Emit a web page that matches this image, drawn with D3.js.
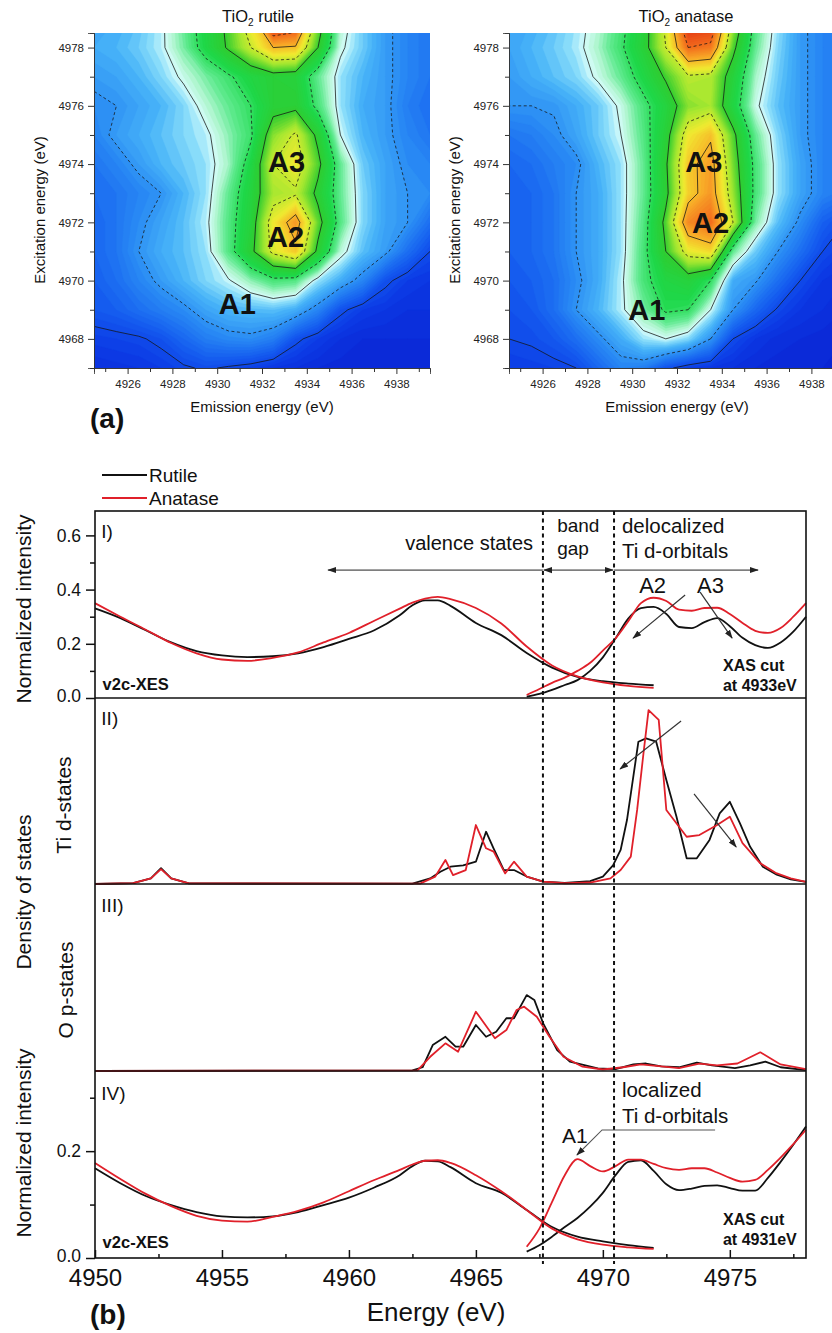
<!DOCTYPE html>
<html>
<head>
<meta charset="utf-8">
<script src="https://cdn.jsdelivr.net/npm/d3@7"></script>
<style>
  body { margin: 0; background: #fff; }
  svg { display: block; font-family: "Liberation Sans", Arial, sans-serif; }
</style>
</head>
<body>
<svg id="chart" width="832" height="1333"></svg>
<script>
// ---------- (a) RIXS planes, values on a 1 eV grid ----------
const emissionGrid = [4924.5, 4925.5, 4926.5, 4927.5, 4928.5, 4929.5, 4930.5, 4931.5,
                      4932.5, 4933.5, 4934.5, 4935.5, 4936.5, 4937.5, 4938.5, 4939.5];
const excitationGrid = [4979, 4978, 4977, 4976, 4975, 4974, 4973, 4972, 4971, 4970, 4969, 4968, 4967];

const rutileMap = [
  [0.22, 0.23, 0.25, 0.29, 0.36, 0.44, 0.52, 0.66, 0.95, 0.90, 0.56, 0.33, 0.26, 0.21, 0.18, 0.16],
  [0.23, 0.24, 0.26, 0.29, 0.35, 0.43, 0.51, 0.60, 0.70, 0.69, 0.50, 0.31, 0.26, 0.21, 0.18, 0.16],
  [0.21, 0.22, 0.24, 0.27, 0.31, 0.35, 0.39, 0.44, 0.47, 0.46, 0.36, 0.28, 0.24, 0.21, 0.18, 0.16],
  [0.19, 0.20, 0.22, 0.24, 0.27, 0.32, 0.36, 0.40, 0.47, 0.48, 0.38, 0.28, 0.23, 0.21, 0.17, 0.15],
  [0.18, 0.21, 0.23, 0.25, 0.27, 0.29, 0.34, 0.39, 0.55, 0.61, 0.48, 0.30, 0.24, 0.21, 0.18, 0.16],
  [0.16, 0.18, 0.21, 0.24, 0.26, 0.28, 0.33, 0.43, 0.60, 0.64, 0.52, 0.36, 0.26, 0.22, 0.19, 0.18],
  [0.15, 0.16, 0.18, 0.20, 0.24, 0.28, 0.36, 0.45, 0.57, 0.59, 0.48, 0.36, 0.27, 0.22, 0.20, 0.19],
  [0.14, 0.16, 0.19, 0.22, 0.25, 0.29, 0.37, 0.46, 0.64, 0.74, 0.53, 0.37, 0.27, 0.22, 0.20, 0.15],
  [0.14, 0.16, 0.20, 0.23, 0.25, 0.28, 0.37, 0.48, 0.62, 0.68, 0.48, 0.32, 0.25, 0.21, 0.15, 0.10],
  [0.13, 0.15, 0.18, 0.21, 0.24, 0.27, 0.295, 0.34, 0.38, 0.37, 0.28, 0.23, 0.18, 0.11, 0.08, 0.07],
  [0.12, 0.13, 0.15, 0.17, 0.19, 0.22, 0.24, 0.245, 0.25, 0.23, 0.18, 0.11, 0.08, 0.07, 0.06, 0.06],
  [0.085, 0.09, 0.095, 0.11, 0.14, 0.17, 0.185, 0.19, 0.17, 0.11, 0.08, 0.06, 0.05, 0.05, 0.05, 0.05],
  [0.06, 0.065, 0.07, 0.08, 0.095, 0.105, 0.095, 0.085, 0.07, 0.06, 0.05, 0.045, 0.045, 0.045, 0.045, 0.045]
];

const anataseMap = [
  [0.22, 0.23, 0.25, 0.28, 0.32, 0.38, 0.46, 0.62, 0.92, 0.90, 0.58, 0.38, 0.28, 0.21, 0.18, 0.16],
  [0.22, 0.24, 0.26, 0.285, 0.33, 0.39, 0.47, 0.60, 0.80, 0.78, 0.52, 0.36, 0.27, 0.21, 0.18, 0.16],
  [0.21, 0.23, 0.25, 0.27, 0.31, 0.36, 0.43, 0.51, 0.59, 0.58, 0.46, 0.33, 0.26, 0.21, 0.18, 0.16],
  [0.20, 0.20, 0.205, 0.23, 0.26, 0.31, 0.38, 0.45, 0.55, 0.57, 0.44, 0.31, 0.25, 0.21, 0.18, 0.16],
  [0.16, 0.17, 0.19, 0.22, 0.26, 0.30, 0.37, 0.47, 0.64, 0.69, 0.52, 0.36, 0.27, 0.21, 0.18, 0.16],
  [0.14, 0.15, 0.17, 0.19, 0.24, 0.28, 0.36, 0.49, 0.68, 0.73, 0.54, 0.38, 0.28, 0.22, 0.18, 0.16],
  [0.13, 0.14, 0.16, 0.20, 0.23, 0.28, 0.36, 0.48, 0.67, 0.74, 0.56, 0.38, 0.28, 0.22, 0.18, 0.16],
  [0.13, 0.14, 0.16, 0.20, 0.23, 0.28, 0.37, 0.52, 0.76, 0.80, 0.60, 0.35, 0.25, 0.19, 0.13, 0.10],
  [0.13, 0.14, 0.16, 0.20, 0.23, 0.28, 0.38, 0.50, 0.63, 0.66, 0.36, 0.26, 0.20, 0.15, 0.10, 0.08],
  [0.12, 0.13, 0.15, 0.19, 0.23, 0.29, 0.38, 0.44, 0.46, 0.40, 0.23, 0.205, 0.15, 0.10, 0.07, 0.06],
  [0.11, 0.12, 0.15, 0.20, 0.24, 0.29, 0.35, 0.41, 0.40, 0.30, 0.20, 0.14, 0.095, 0.07, 0.06, 0.05],
  [0.10, 0.105, 0.12, 0.15, 0.19, 0.23, 0.28, 0.30, 0.27, 0.20, 0.10, 0.07, 0.055, 0.05, 0.045, 0.04],
  [0.08, 0.085, 0.09, 0.10, 0.14, 0.18, 0.17, 0.11, 0.08, 0.07, 0.06, 0.05, 0.045, 0.04, 0.04, 0.035]
];

const contourLevels = [0.1, 0.2, 0.3, 0.4, 0.5, 0.6, 0.7, 0.8, 0.9];
const emissionTicks = [4926, 4928, 4930, 4932, 4934, 4936, 4938];
const excitationTicks = [4968, 4970, 4972, 4974, 4976, 4978];

// ---------- (b) spectra ----------
const xesEnergy = [4950, 4951, 4952, 4953, 4954, 4955, 4956, 4957, 4958, 4959, 4960, 4961, 4962,
                   4962.5, 4963, 4963.5, 4964, 4965, 4966, 4967, 4968, 4969, 4970, 4971, 4972];
const xesRutileI   = [0.331, 0.295, 0.25, 0.205, 0.173, 0.157, 0.151, 0.154, 0.165, 0.188, 0.218, 0.25, 0.305,
                      0.342, 0.36, 0.36, 0.34, 0.277, 0.232, 0.166, 0.112, 0.078, 0.062, 0.053, 0.047];
const xesAnataseI  = [0.35, 0.3, 0.252, 0.203, 0.165, 0.142, 0.137, 0.148, 0.168, 0.205, 0.24, 0.285, 0.33,
                      0.352, 0.367, 0.373, 0.365, 0.332, 0.275, 0.19, 0.12, 0.08, 0.058, 0.045, 0.037];
const xesRutileIV  = [0.168, 0.14, 0.116, 0.099, 0.086, 0.078, 0.076, 0.078, 0.086, 0.099, 0.113, 0.132, 0.155,
                      0.172, 0.182, 0.181, 0.17, 0.14, 0.122, 0.09, 0.058, 0.04, 0.031, 0.024, 0.019];
const xesAnataseIV = [0.178, 0.148, 0.12, 0.097, 0.079, 0.07, 0.068, 0.077, 0.088, 0.104, 0.125, 0.146, 0.165,
                      0.175, 0.182, 0.183, 0.178, 0.155, 0.125, 0.09, 0.055, 0.035, 0.025, 0.02, 0.017];

const xasEnergy = [4967, 4967.5, 4968, 4968.5, 4969, 4969.5, 4970, 4970.5, 4971, 4971.5, 4972, 4972.5,
                   4973, 4973.5, 4974, 4974.5, 4975, 4975.5, 4976, 4976.5, 4977, 4977.5, 4978];
const xasRutileI   = [0.005, 0.015, 0.03, 0.048, 0.066, 0.1, 0.15, 0.22, 0.293, 0.332, 0.336, 0.31,
                      0.262, 0.258, 0.28, 0.295, 0.265, 0.222, 0.195, 0.185, 0.205, 0.245, 0.3];
const xasAnataseI  = [0.011, 0.033, 0.056, 0.075, 0.1, 0.13, 0.175, 0.22, 0.283, 0.35, 0.37, 0.358,
                      0.326, 0.322, 0.332, 0.333, 0.31, 0.277, 0.248, 0.24, 0.258, 0.3, 0.35];
const xasRutileIV  = [0.012, 0.024, 0.04, 0.058, 0.075, 0.096, 0.122, 0.155, 0.18, 0.183, 0.163, 0.138,
                      0.127, 0.13, 0.135, 0.136, 0.131, 0.126, 0.126, 0.15, 0.18, 0.212, 0.246];
const xasAnataseIV = [0.021, 0.055, 0.105, 0.155, 0.185, 0.172, 0.162, 0.172, 0.184, 0.184, 0.176, 0.168,
                      0.165, 0.168, 0.168, 0.16, 0.15, 0.143, 0.146, 0.165, 0.188, 0.213, 0.24];

const tiRutileEnergy = [4950, 4951.5, 4952.2, 4952.6, 4953, 4953.7, 4962.5, 4963.2, 4963.6, 4964, 4964.5,
                        4965, 4965.4, 4965.7, 4966.1, 4966.5, 4967, 4967.65, 4968.5, 4969.5, 4970, 4970.4,
                        4970.7, 4970.95, 4971.4, 4971.7, 4972.1, 4972.5, 4972.9, 4973.3, 4973.7, 4974.2,
                        4974.6, 4975, 4975.4, 4975.8, 4976.3, 4976.85, 4977.4, 4978];
const tiRutile = [0, 0.005, 0.03, 0.085, 0.03, 0.003, 0.002, 0.03, 0.066, 0.093, 0.1,
                  0.12, 0.281, 0.19, 0.075, 0.075, 0.04, 0.013, 0.006, 0.015, 0.04, 0.1,
                  0.183, 0.344, 0.765, 0.783, 0.765, 0.559, 0.362, 0.138, 0.138, 0.237,
                  0.38, 0.442, 0.326, 0.2, 0.093, 0.05, 0.025, 0.012];
const tiAnataseEnergy = [4950, 4951.5, 4952.2, 4952.6, 4953, 4953.7, 4962.8, 4963.4, 4963.8, 4964.1, 4964.6,
                         4965, 4965.4, 4965.7, 4966.15, 4966.5, 4967, 4967.65, 4968.5, 4969.5, 4970.3, 4970.7,
                         4971.1, 4971.35, 4971.6, 4971.8, 4972.2, 4972.5, 4972.65, 4973.3, 4973.8, 4974.5,
                         4975, 4975.5, 4976.2, 4976.8, 4977.4, 4978];
const tiAnatase = [0, 0.005, 0.03, 0.08, 0.03, 0.003, 0.002, 0.04, 0.129, 0.048, 0.075,
                   0.317, 0.192, 0.174, 0.057, 0.12, 0.04, 0.013, 0.004, 0.008, 0.03, 0.075,
                   0.147, 0.398, 0.703, 0.935, 0.882, 0.398, 0.371, 0.254, 0.263, 0.317,
                   0.362, 0.22, 0.111, 0.06, 0.03, 0.012];

const opRutileEnergy = [4950, 4962.5, 4962.9, 4963.3, 4963.8, 4964.2, 4964.5, 4965, 4965.4, 4965.8, 4966.2,
                        4966.5, 4967, 4967.3, 4967.65, 4968.2, 4968.7, 4969.8, 4970.5, 4971.2, 4971.7,
                        4972.3, 4973, 4973.7, 4974.3, 4975.2, 4975.8, 4976.4, 4977, 4978];
const opRutile = [0, 0.003, 0.02, 0.139, 0.183, 0.13, 0.13, 0.246, 0.183, 0.21, 0.282,
                  0.282, 0.406, 0.38, 0.255, 0.112, 0.05, 0.014, 0.01, 0.035, 0.04,
                  0.025, 0.02, 0.045, 0.03, 0.015, 0.03, 0.05, 0.02, 0.005];
const opAnataseEnergy = [4950, 4962.7, 4963.2, 4963.8, 4964.3, 4965, 4965.75, 4966.2, 4966.6, 4966.9, 4967.4,
                         4967.9, 4968.45, 4969.2, 4970, 4970.8, 4971.5, 4972.3, 4973, 4973.8, 4974.5,
                         4975.3, 4976.2, 4977, 4978];
const opAnatase = [0, 0.003, 0.076, 0.148, 0.103, 0.317, 0.175, 0.219, 0.326, 0.344, 0.29,
                   0.183, 0.076, 0.023, 0.008, 0.02, 0.035, 0.025, 0.015, 0.04, 0.03,
                   0.04, 0.1, 0.035, 0.01];

const energyTicks = [4950, 4955, 4960, 4965, 4970, 4975];
const energyMinorTicks = [4952.5, 4957.5, 4962.5, 4967.5, 4972.5, 4977.5];
const bandEdges = [4967.64, 4970.44];

// ---------- drawing ----------
const svg = d3.select("#chart");
svg.append("rect").attr("width", 832).attr("height", 1333).attr("fill", "#fff");

const defs = svg.append("defs");
defs.append("marker")
    .attr("id", "arrowHead")
    .attr("viewBox", "0 0 10 10")
    .attr("refX", 9).attr("refY", 5)
    .attr("markerUnits", "userSpaceOnUse")
    .attr("markerWidth", 9).attr("markerHeight", 9)
    .attr("orient", "auto-start-reverse")
  .append("path")
    .attr("d", "M0,1.6L10,5L0,8.4Z")
    .attr("fill", "#222");

// Origin-like rainbow: deep blue -> white-cyan -> green -> yellow -> red
const heat = d3.scaleLinear()
    .domain([0.03, 0.08, 0.13, 0.19, 0.24, 0.275, 0.3, 0.325, 0.36, 0.42, 0.5, 0.57, 0.64, 0.72, 0.8, 0.9])
    .range(["#0a22d2", "#0c3ce6", "#1660f0", "#2a8cf4", "#48b4f8", "#88dcfa", "#d6fcfa", "#b0f6d0",
            "#60ea90", "#1ed84a", "#30cc30", "#a6e830", "#f0ea30", "#f8a828", "#f26a1c", "#e02a12"])
    .clamp(true);

function drawMap(opt) {
    const g = svg.append("g");
    const x = d3.scaleLinear().domain([4924.5, 4939.5]).range([opt.left, opt.left + 336]);
    const y = d3.scaleLinear().domain([4967, 4978.5]).range([368, 33]);

    defs.append("clipPath").attr("id", "clip-" + opt.id)
      .append("rect")
        .attr("x", opt.left).attr("y", 33)
        .attr("width", 336).attr("height", 335);

    const nx = emissionGrid.length, ny = excitationGrid.length;
    const flat = opt.values.flat();
    const toPx = d3.geoTransform({
        point: function(px, py) {
            this.stream.point(x(emissionGrid[0] + (px - 0.5)), y(excitationGrid[0] - (py - 0.5)));
        }
    });
    const path = d3.geoPath(toPx);

    const body = g.append("g").attr("clip-path", "url(#clip-" + opt.id + ")");
    body.append("rect")
        .attr("x", opt.left).attr("y", 33).attr("width", 336).attr("height", 335)
        .attr("fill", heat(0));

    const bands = d3.contours().size([nx, ny]).thresholds(d3.range(0.03, 0.99, 0.01))(flat);
    body.selectAll("path.band").data(bands).join("path")
        .attr("class", "band")
        .attr("d", path)
        .attr("fill", d => heat(d.value + 0.005))
        .attr("stroke", d => heat(d.value + 0.005))
        .attr("stroke-width", 0.4);

    const isos = d3.contours().size([nx, ny]).thresholds(contourLevels)(flat);
    body.selectAll("path.iso").data(isos).join("path")
        .attr("class", "iso")
        .attr("d", path)
        .attr("fill", "none")
        .attr("stroke", "#151515")
        .attr("stroke-opacity", 0.85)
        .attr("stroke-width", 0.9)
        .attr("stroke-dasharray", (d, i) => i % 2 ? "3,2.5" : null);

    // peak labels
    body.selectAll("text.peak").data(opt.labels).join("text")
        .attr("class", "peak")
        .attr("x", d => x(d[1])).attr("y", d => y(d[2]))
        .attr("dy", "0.36em")
        .attr("text-anchor", "middle")
        .attr("font-size", 29).attr("font-weight", "bold").attr("fill", "#111")
        .text(d => d[0]);

    // axes
    g.append("g").attr("transform", "translate(0,368)")
        .call(d3.axisBottom(x).tickValues(emissionTicks).tickFormat(d3.format("d"))
              .tickSize(6).tickPadding(6));
    g.append("g").attr("transform", "translate(0,368)")
        .call(d3.axisBottom(x).tickValues(d3.range(4925, 4940, 2)).tickFormat("").tickSize(4));
    g.append("g").attr("transform", "translate(" + opt.left + ",0)")
        .call(d3.axisLeft(y).tickValues(excitationTicks).tickFormat(d3.format("d"))
              .tickSize(6).tickPadding(4));
    g.append("g").attr("transform", "translate(" + opt.left + ",0)")
        .call(d3.axisLeft(y).tickValues(d3.range(4967, 4979, 2)).tickFormat("").tickSize(4));
    g.selectAll(".domain").attr("stroke", "#333").attr("stroke-width", 0.8);
    g.selectAll(".tick line").attr("stroke", "#333");
    g.selectAll(".tick text").attr("font-size", 11.5).attr("fill", "#222")
        .attr("font-family", "'Liberation Sans', Arial, sans-serif");

    // titles
    const t = g.append("text").attr("x", opt.titleX).attr("y", 22)
        .attr("text-anchor", "middle").attr("font-size", 16.5).attr("fill", "#111");
    t.append("tspan").text("TiO");
    t.append("tspan").attr("font-size", 10).attr("dy", 4).text("2");
    t.append("tspan").attr("dy", -4).text(" " + opt.title);

    g.append("text").attr("x", x(4932)).attr("y", 412)
        .attr("text-anchor", "middle").attr("font-size", 15).attr("fill", "#111")
        .text("Emission energy (eV)");
    g.append("text")
        .attr("transform", "translate(" + (opt.left - 54) + ",210) rotate(-90)")
        .attr("dy", "0.35em")
        .attr("text-anchor", "middle").attr("font-size", 15).attr("fill", "#111")
        .text("Excitation energy (eV)");
}

drawMap({ id: "rutile", left: 94, values: rutileMap, title: "rutile", titleX: 258,
          labels: [["A3", 4933.1, 4974.1], ["A2", 4933.05, 4971.5], ["A1", 4930.9, 4969.2]] });
drawMap({ id: "anatase", left: 509, values: anataseMap, title: "anatase", titleX: 686,
          labels: [["A3", 4933.2, 4974.1], ["A2", 4933.5, 4972.0], ["A1", 4930.65, 4969.0]] });

svg.append("text").attr("x", 90).attr("y", 428)
    .attr("font-size", 28).attr("font-weight", "bold").attr("fill", "#111").text("(a)");

// ---------- (b) ----------
const b = svg.append("g");
const xE = d3.scaleLinear().domain([4950, 4978]).range([95, 806]);
const yI = d3.scaleLinear().domain([0, 0.69]).range([698, 511]);
const yII = d3.scaleLinear().domain([0, 1]).range([884, 698]);
const yIII = d3.scaleLinear().domain([0, 1]).range([1071, 884]);
const yIV = d3.scaleLinear().domain([0, 0.35]).range([1258, 1071]);

const RED = "#e0202a", BLACK = "#111";

function curve(xs, ys, yScale, color, smooth) {
    const line = d3.line()
        .x(d => xE(d[0])).y(d => yScale(d[1]))
        .curve(smooth ? d3.curveMonotoneX : d3.curveLinear);
    b.append("path").datum(d3.zip(xs, ys))
        .attr("d", line)
        .attr("fill", "none").attr("stroke", color)
        .attr("stroke-width", 1.8).attr("stroke-linejoin", "round");
}

// panel I
curve(xesEnergy, xesRutileI, yI, BLACK, true);
curve(xasEnergy, xasRutileI, yI, BLACK, true);
curve(xesEnergy, xesAnataseI, yI, RED, true);
curve(xasEnergy, xasAnataseI, yI, RED, true);
// panel II
curve(tiRutileEnergy, tiRutile, yII, BLACK, false);
curve(tiAnataseEnergy, tiAnatase, yII, RED, false);
// panel III
curve(opRutileEnergy, opRutile, yIII, BLACK, false);
curve(opAnataseEnergy, opAnatase, yIII, RED, false);
// panel IV
curve(xesEnergy, xesRutileIV, yIV, BLACK, true);
curve(xasEnergy, xasRutileIV, yIV, BLACK, true);
curve(xesEnergy, xesAnataseIV, yIV, RED, true);
curve(xasEnergy, xasAnataseIV, yIV, RED, true);

// frame and panel dividers
b.append("rect").attr("x", 95).attr("y", 511).attr("width", 711).attr("height", 747)
    .attr("fill", "none").attr("stroke", "#111").attr("stroke-width", 1.6);
[698, 884, 1071].forEach(yy => {
    b.append("line").attr("x1", 95).attr("x2", 806).attr("y1", yy).attr("y2", yy)
        .attr("stroke", "#111").attr("stroke-width", 1.6);
});

// band-gap markers
b.selectAll("line.edge").data(bandEdges).join("line")
    .attr("class", "edge")
    .attr("x1", d => xE(d)).attr("x2", d => xE(d))
    .attr("y1", 511).attr("y2", 1264)
    .attr("stroke", "#111").attr("stroke-width", 2).attr("stroke-dasharray", "4,3.5");

// axes
function styleAxis(sel, size) {
    sel.select(".domain").remove();
    sel.selectAll(".tick line").attr("stroke", "#111").attr("stroke-width", 1.5);
    sel.selectAll(".tick text").attr("font-size", size).attr("fill", "#111")
        .attr("font-family", "'Liberation Sans', Arial, sans-serif");
}
b.append("g").attr("transform", "translate(0,1258)")
    .call(d3.axisBottom(xE).tickValues(energyTicks).tickFormat(d3.format("d"))
          .tickSizeInner(-8).tickSizeOuter(0).tickPadding(11))
    .call(s => styleAxis(s, 24));
b.append("g").attr("transform", "translate(0,1258)")
    .call(d3.axisBottom(xE).tickValues(energyMinorTicks).tickFormat("")
          .tickSizeInner(-4).tickSizeOuter(0))
    .call(s => styleAxis(s, 24));

b.append("g").attr("transform", "translate(95,0)")
    .call(d3.axisLeft(yI).tickValues([0, 0.2, 0.4, 0.6]).tickFormat(d3.format(".1f"))
          .tickSize(9).tickPadding(5))
    .call(s => styleAxis(s, 17.5));
b.append("g").attr("transform", "translate(95,0)")
    .call(d3.axisLeft(yI).tickValues([0.1, 0.3, 0.5]).tickFormat("").tickSize(5))
    .call(s => styleAxis(s, 17.5));
b.append("g").attr("transform", "translate(95,0)")
    .call(d3.axisLeft(yIV).tickValues([0, 0.2]).tickFormat(d3.format(".1f"))
          .tickSize(9).tickPadding(5))
    .call(s => styleAxis(s, 17.5));
b.append("g").attr("transform", "translate(95,0)")
    .call(d3.axisLeft(yIV).tickValues([0.1, 0.3]).tickFormat("").tickSize(5))
    .call(s => styleAxis(s, 17.5));
// keep the lowest "0.0" clear of the energy labels
b.selectAll(".tick text").filter(function() { return this.textContent === "0.0"; })
    .attr("dy", "0.2em");

// text helper
function label(x, y, text, size, opts = {}) {
    return b.append("text").attr("x", x).attr("y", y)
        .attr("font-size", size)
        .attr("font-weight", opts.bold ? "bold" : null)
        .attr("text-anchor", opts.anchor || "start")
        .attr("fill", "#111")
        .text(text);
}
function vlabel(x, yc, text, size) {
    b.append("text").attr("transform", "translate(" + x + "," + yc + ") rotate(-90)")
        .attr("dy", "0.35em").attr("text-anchor", "middle")
        .attr("font-size", size).attr("fill", "#111").text(text);
}
function arrow(points, opts = {}) {
    b.append("path").attr("d", d3.line()(points))
        .attr("fill", "none")
        .attr("stroke", opts.color || "#333")
        .attr("stroke-width", opts.width || 1.2)
        .attr("marker-end", "url(#arrowHead)")
        .attr("marker-start", opts.both ? "url(#arrowHead)" : null);
}

// legend
b.append("line").attr("x1", 102).attr("x2", 147).attr("y1", 475).attr("y2", 475)
    .attr("stroke", BLACK).attr("stroke-width", 1.8);
label(149, 482, "Rutile", 19);
b.append("line").attr("x1", 102).attr("x2", 147).attr("y1", 498).attr("y2", 498)
    .attr("stroke", RED).attr("stroke-width", 1.8);
label(149, 505, "Anatase", 19);

// axis titles
vlabel(24, 609, "Normalized intensity", 21);
vlabel(24, 1143, "Normalized intensity", 21);
vlabel(24, 892, "Density of states", 21);
vlabel(64, 805, "Ti d-states", 21);
vlabel(66, 990, "O p-states", 21);
label(436, 1321, "Energy (eV)", 26, { anchor: "middle" });
b.append("text").attr("x", 90).attr("y", 1324)
    .attr("font-size", 28).attr("font-weight", "bold").attr("fill", "#111").text("(b)");

// panel I annotations
label(xE(4950.25), yI(0.59), "I)", 19);
label(xE(4967.25), yI(0.546), "valence states", 20, { anchor: "end" });
label(xE(4968.2), yI(0.612), "band", 19);
label(xE(4968.2), yI(0.528), "gap", 19);
label(xE(4970.75), yI(0.61), "delocalized", 20.5);
label(xE(4970.75), yI(0.515), "Ti d-orbitals", 20.5);
arrow([[xE(bandEdges[0]), yI(0.472)], [xE(4959.18), yI(0.472)]], { color: "#222", width: 1 });
arrow([[xE(bandEdges[0]) + 1, yI(0.472)], [xE(bandEdges[1]) - 1, yI(0.472)]], { color: "#222", width: 1, both: true });
arrow([[xE(bandEdges[1]), yI(0.472)], [xE(4976.11), yI(0.472)]], { color: "#222", width: 1 });
label(xE(4971.43), yI(0.387), "A2", 22);
label(xE(4973.71), yI(0.387), "A3", 22);
arrow([[xE(4973.24), yI(0.38)], [xE(4971.19), yI(0.221)]]);
arrow([[xE(4973.83), yI(0.391)], [xE(4975.09), yI(0.221)]]);
label(xE(4950.3), yI(0.03), "v2c-XES", 16.5, { bold: true });
label(xE(4974.73), yI(0.1), "XAS cut", 16, { bold: true });
label(xE(4974.73), yI(0.027), "at 4933eV", 16, { bold: true });

// panel II / III
label(xE(4950.25), yII(0.855), "II)", 19);
arrow([[xE(4973.08), yII(0.876)], [xE(4970.68), yII(0.618)]]);
arrow([[xE(4973.59), yII(0.484)], [xE(4975.25), yII(0.199)]]);
label(xE(4950.25), yIII(0.85), "III)", 19);

// panel IV
label(xE(4950.25), yIV(0.296), "IV)", 19);
label(xE(4970.75), yIV(0.301), "localized", 20.5);
label(xE(4970.75), yIV(0.253), "Ti d-orbitals", 20.5);
label(xE(4968.39), yIV(0.215), "A1", 21);
arrow([[xE(4974.42), yIV(0.2396)], [xE(4969.97), yIV(0.2396)], [xE(4968.98), yIV(0.1928)]],
      { color: "#555", width: 1.1 });
label(xE(4950.3), yIV(0.019), "v2c-XES", 16.5, { bold: true });
label(xE(4974.73), yIV(0.062), "XAS cut", 16, { bold: true });
label(xE(4974.73), yIV(0.024), "at 4931eV", 16, { bold: true });
</script>
</body>
</html>
